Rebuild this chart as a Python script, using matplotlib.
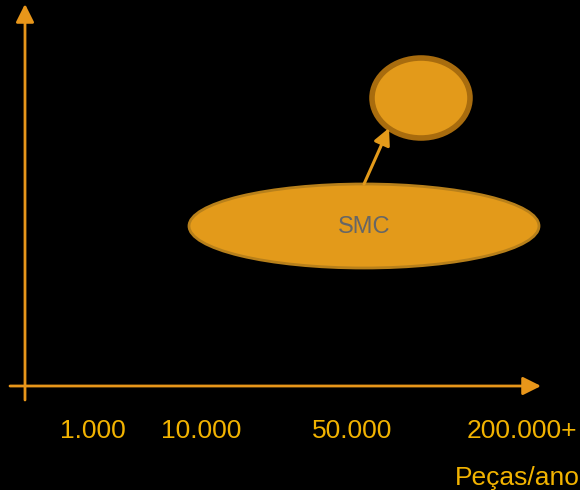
import matplotlib.pyplot as plt
from matplotlib.patches import Ellipse, FancyArrowPatch

# diagram in pixel-like coordinates (x right, y down)
tick_labels = ['1.000', '10.000', '50.000', '200.000+']
tick_x = [93, 201, 352, 522]
axis_title = 'Peças/ano'

# (center x, center y, width, height)
big_ellipse = (364, 226, 350, 84)
small_circle = (421, 98, 98, 80)
shift_start = (364, 184)
shift_end = (389, 128)

fill = '#E39A1A'
line = '#E8961A'
txt = '#F2B300'

plt.rcParams['font.family'] = ['Liberation Sans', 'DejaVu Sans']

fig = plt.figure(figsize=(5.8, 4.9), dpi=100, facecolor='black')
ax = fig.add_axes([0, 0, 1, 1])
ax.set_facecolor('black')
ax.set_xlim(0, 580)
ax.set_ylim(490, 0)
ax.axis('off')

# axes with arrows
ax.annotate('', xy=(25, 4), xytext=(25, 400),
            arrowprops=dict(arrowstyle='-|>,head_length=1.1,head_width=0.55',
                            color=line, lw=2, shrinkA=0, shrinkB=0))
ax.annotate('', xy=(541, 386), xytext=(10, 386),
            arrowprops=dict(arrowstyle='-|>,head_length=1.1,head_width=0.55',
                            color=line, lw=2, shrinkA=0, shrinkB=0))

cx, cy, w, h = big_ellipse
ax.add_patch(Ellipse((cx, cy), w, h, facecolor=fill, edgecolor='#B8801A', lw=2))
ax.text(cx, cy + 1, 'SMC', color='#666666', fontsize=17, ha='center', va='center')

cx, cy, w, h = small_circle
ax.add_patch(Ellipse((cx, cy), w, h, facecolor=fill, edgecolor='#A86C0E', lw=4))

ax.add_patch(FancyArrowPatch(shift_start, shift_end,
                             arrowstyle='-|>,head_length=10,head_width=5',
                             color=fill, lw=2.2, shrinkA=0, shrinkB=0))

for x, lab in zip(tick_x, tick_labels):
    ax.text(x, 431, lab, color=txt, fontsize=19, ha='center', va='center')
ax.text(517, 478, axis_title, color=txt, fontsize=19, ha='center', va='center')

fig.savefig('out.png', dpi=100, facecolor='black')
